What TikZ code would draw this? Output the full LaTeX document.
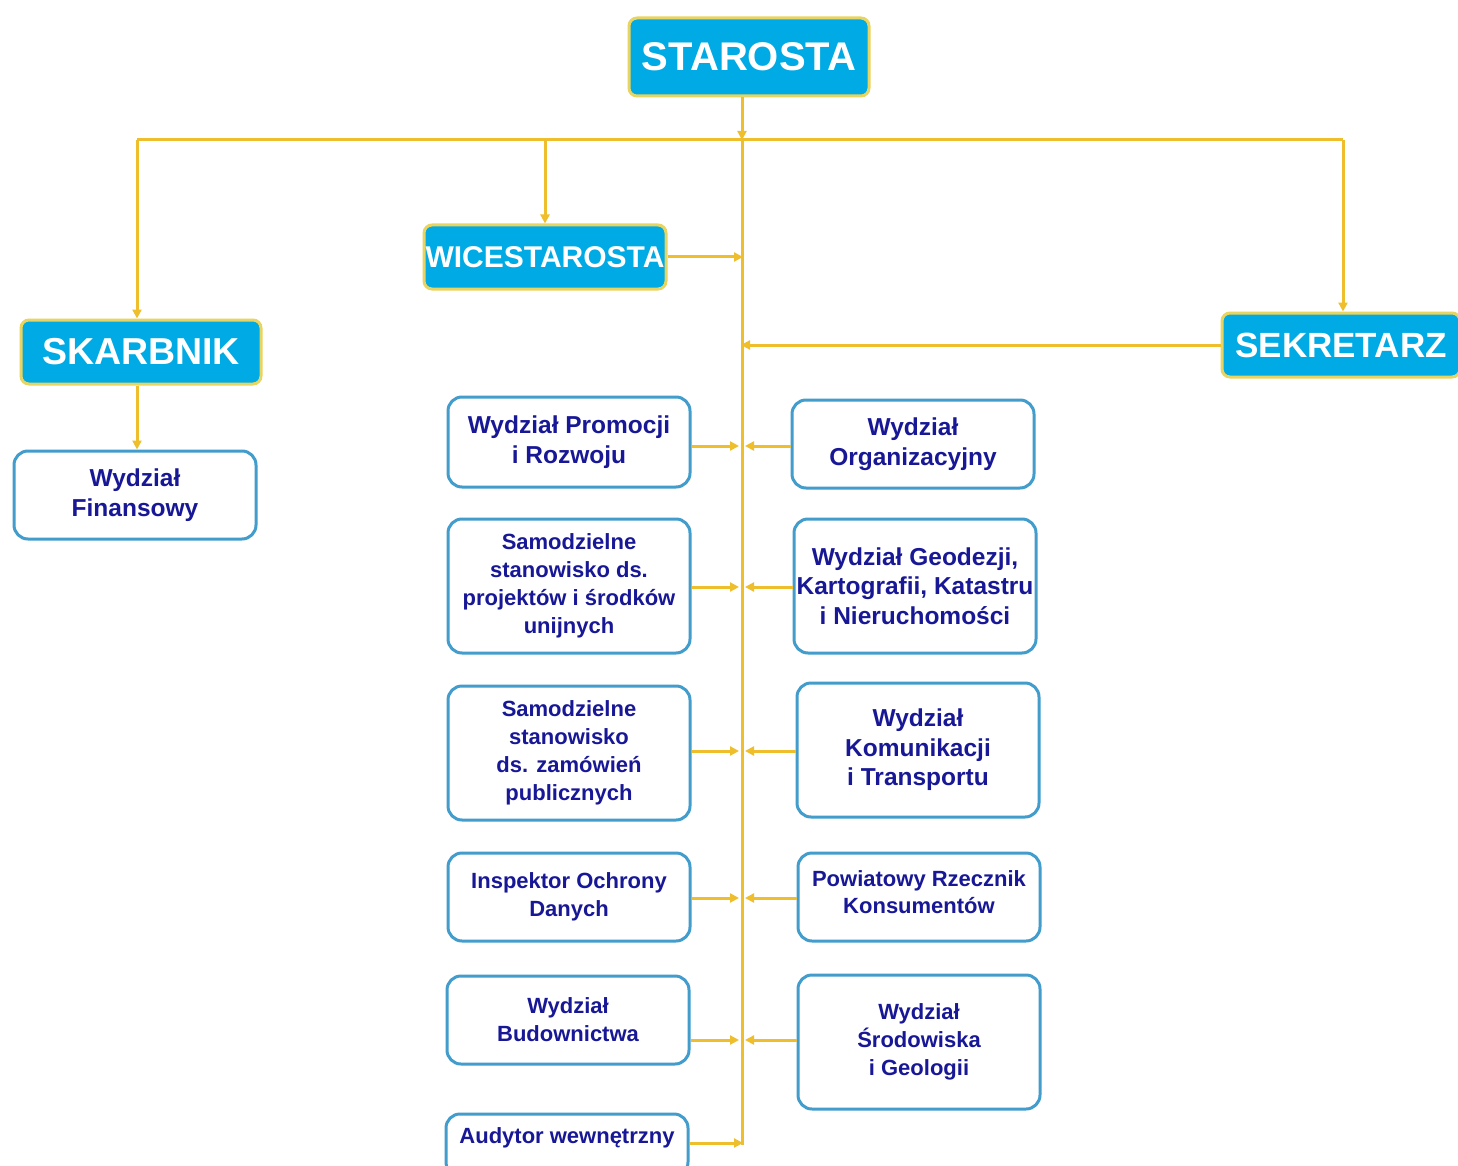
\documentclass[tikz,border=0pt]{standalone}
\usepackage{fontspec}
\setmainfont{Liberation Sans}
\usetikzlibrary{arrows.meta}
\definecolor{lineY}{RGB}{238,190,45}
\definecolor{boxB}{RGB}{0,170,228}
\definecolor{glowY}{RGB}{232,212,96}
\definecolor{edgeB}{RGB}{66,156,204}
\definecolor{txtB}{RGB}{24,24,150}
\tikzset{
  headbox/.style={draw=glowY, line width=3pt, fill=boxB, rounded corners=8pt,
    text=white, font=\bfseries, inner sep=0pt, align=center},
  unitbox/.style={draw=edgeB, line width=3pt, fill=white, rounded corners=14pt,
    text=txtB, font=\bfseries\fontsize{22}{28}\selectfont, inner sep=0pt,
    minimum width=242pt, align=center},
  bigtxt/.style={font=\bfseries\fontsize{24.5}{29.5}\selectfont},
  conn/.style={draw=lineY, line width=3pt},
  arr/.style={conn, -{Triangle[length=9pt,width=9pt]}},
}
\begin{document}
\begin{tikzpicture}[x=1pt,y=-1pt]
\useasboundingbox (0,0) rectangle (1458,1166);
\fill[white] (0,0) rectangle (1458,1166);
% head boxes
\node[headbox, minimum width=240pt, minimum height=78pt, font=\bfseries\fontsize{40}{42}\selectfont] (star) at (749,57) {STAROSTA};
\node[headbox, minimum width=242pt, minimum height=64pt, font=\bfseries\fontsize{30}{32}\selectfont] (wice) at (545,257) {WICESTAROSTA};
\node[headbox, minimum width=240pt, minimum height=64pt, font=\bfseries\fontsize{37.5}{40}\selectfont] (skar) at (141,352) {SKARBNIK};
\node[headbox, minimum width=238pt, minimum height=64pt, font=\bfseries\fontsize{35}{38}\selectfont] (sekr) at (1341,345) {SEKRETARZ};
% unit boxes
\node[unitbox, bigtxt, minimum height=88pt] (fin) at (135,495) {Wydział\\Finansowy};
\node[unitbox, bigtxt, minimum height=90pt] (l1) at (569,442) {Wydział Promocji\\i Rozwoju};
\node[unitbox, minimum height=134pt] (l2) at (569,586) {Samodzielne\\stanowisko ds.\\projektów i środków\\unijnych};
\node[unitbox, minimum height=134pt] (l3) at (569,753) {Samodzielne\\stanowisko\\ds. zamówień\\publicznych};
\node[unitbox, minimum height=88pt] (l4) at (569,897) {Inspektor Ochrony\\Danych};
\node[unitbox, minimum height=88pt] (l5) at (568,1020) {Wydział\\Budownictwa};
\node[unitbox, minimum height=62pt] (l6) at (567,1145) {\raisebox{8pt}[0.75em][0.2em]{Audytor wewnętrzny}};
\node[unitbox, bigtxt, minimum height=88pt] (r1) at (913,444) {Wydział\\Organizacyjny};
\node[unitbox, bigtxt, minimum height=134pt] (r2) at (915,586) {Wydział Geodezji,\\Kartografii, Katastru\\i Nieruchomości};
\node[unitbox, bigtxt, minimum height=134pt] (r3) at (918,750) {Wydział\\Komunikacji\\i Transportu};
\node[unitbox, minimum height=88pt, font=\bfseries\fontsize{22}{27}\selectfont] (r4) at (919,897) {\raisebox{3pt}[0.75em][0.2em]{Powiatowy Rzecznik}\\\raisebox{3pt}[0.75em][0.2em]{Konsumentów}};
\node[unitbox, minimum height=134pt] (r5) at (919,1042) {Wydział\\Środowiska\\i Geologii};
% trunk and bus
\coordinate (tk) at (742,140);
\coordinate (bl) at (137,140);
\coordinate (bm) at (545,140);
\coordinate (br) at (1343,140);
\draw[arr] (star.south -| tk) -- (tk);
\draw[conn] (tk) -- (l6.east -| tk);
\draw[conn] (bl) -- (br);
\draw[arr] (bl) -- (bl |- skar.north);
\draw[arr] (bm) -- (wice.north);
\draw[arr] (br) -- (br |- sekr.north);
\draw[arr] (skar.south -| bl) -- (bl |- fin.north);
\draw[arr, shorten >=-1pt] (wice.east) -- (wice.east -| tk);
\draw[arr, shorten >=-1pt] (sekr.west) -- (sekr.west -| tk);
% left units
\foreach \n/\yy in {l1/446, l2/587, l3/751, l4/898, l5/1040}{
  \draw[arr, shorten >=3pt] (\n.east |- 0,\yy) -- (742,\yy);
}
\draw[arr, shorten >=-1pt] (l6.east |- 0,1143) -- (742,1143);
\foreach \n/\yy in {r1/446, r2/587, r3/751, r4/898, r5/1040}{
  \draw[arr, shorten >=3pt] (\n.west |- 0,\yy) -- (742,\yy);
}
\end{tikzpicture}
\end{document}
